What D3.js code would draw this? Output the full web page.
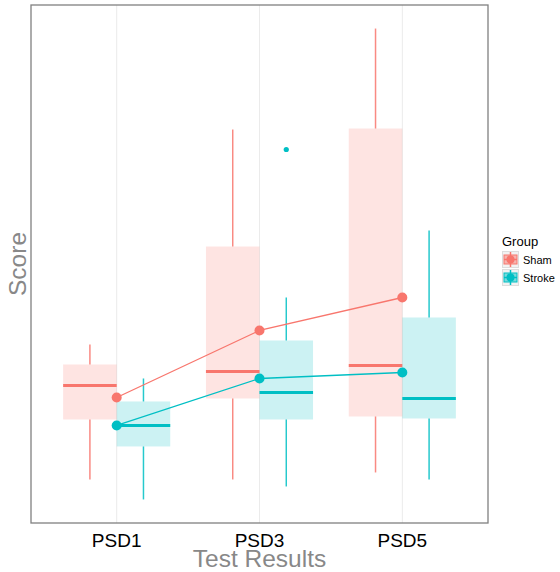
<!DOCTYPE html>
<html>
<head>
<meta charset="utf-8">
<script src="https://cdn.jsdelivr.net/npm/d3@7"></script>
<style>
  body { margin: 0; background: #fff; }
  svg { font-family: "Liberation Sans", Arial, sans-serif; }
</style>
</head>
<body>
<div id="chart"></div>
<script>
// Data
const tests = ["PSD1", "PSD3", "PSD5"];
const groups = ["Sham", "Stroke"];
const colors = ["#F8766D", "#00BFC4"];

// box stats per group, one entry per test: [lower, q1, median, q3, upper]
const shamStats = [
  [2.0, 8.0, 11.4, 13.5, 15.5],
  [2.0, 10.1, 12.8, 25.3, 37.0],
  [2.7, 8.3, 13.4, 37.1, 47.1]
];
const strokeStats = [
  [0.0, 5.3, 7.4, 9.8, 12.1],
  [1.3, 8.0, 10.7, 15.9, 20.2],
  [2.0, 8.1, 10.1, 18.2, 26.9]
];
const shamMeans = [10.2, 16.9, 20.2];
const strokeMeans = [7.4, 12.1, 12.7];
const shamOutliers = [[], [], []];
const strokeOutliers = [[], [35.0], []];

const width = 560, height = 572;
const margin = { top: 5, right: 72, bottom: 49, left: 31 };
const pw = width - margin.left - margin.right;
const ph = height - margin.top - margin.bottom;

const svg = d3.select("#chart").append("svg")
  .attr("width", width)
  .attr("height", height);

const g = svg.append("g")
  .attr("transform", `translate(${margin.left},${margin.top})`);

// scales
const x = d3.scalePoint().domain(tests).range([0, pw]).padding(0.6);
const step = x.step();
const dodge = d3.scaleBand().domain(groups).range([-0.375 * step, 0.375 * step]);

const allVals = shamStats.flat().concat(strokeStats.flat(), strokeOutliers.flat(), shamOutliers.flat());
const [ymin, ymax] = d3.extent(allVals);
const pad = (ymax - ymin) * 0.05;
const y = d3.scaleLinear().domain([ymin - pad, ymax + pad]).range([ph, 0]);

// vertical grid lines
g.append("g").selectAll("line")
  .data(tests)
  .join("line")
    .attr("x1", d => x(d)).attr("x2", d => x(d))
    .attr("y1", 0).attr("y2", ph)
    .attr("stroke", "#ebebeb")
    .attr("stroke-width", 1);

const series = [
  { key: "Sham", stats: shamStats, means: shamMeans, outliers: shamOutliers, color: colors[0] },
  { key: "Stroke", stats: strokeStats, means: strokeMeans, outliers: strokeOutliers, color: colors[1] }
];

series.forEach(s => {
  const bg = g.append("g");
  const items = s.stats.map((st, i) => ({ test: tests[i], st }));
  const bx = d => x(d.test) + dodge(s.key);
  const bw = dodge.bandwidth();

  // whiskers
  bg.selectAll("line.up").data(items).join("line")
    .attr("x1", d => bx(d) + bw / 2).attr("x2", d => bx(d) + bw / 2)
    .attr("y1", d => y(d.st[3])).attr("y2", d => y(d.st[4]))
    .attr("stroke", s.color).attr("stroke-width", 1.5).attr("stroke-opacity", 0.85);
  bg.selectAll("line.down").data(items).join("line")
    .attr("x1", d => bx(d) + bw / 2).attr("x2", d => bx(d) + bw / 2)
    .attr("y1", d => y(d.st[1])).attr("y2", d => y(d.st[0]))
    .attr("stroke", s.color).attr("stroke-width", 1.5).attr("stroke-opacity", 0.85);

  // boxes
  bg.selectAll("rect").data(items).join("rect")
    .attr("x", d => bx(d))
    .attr("width", bw)
    .attr("y", d => y(d.st[3]))
    .attr("height", d => y(d.st[1]) - y(d.st[3]))
    .attr("fill", s.color)
    .attr("fill-opacity", 0.2);

  // medians
  bg.selectAll("line.med").data(items).join("line")
    .attr("x1", d => bx(d)).attr("x2", d => bx(d) + bw)
    .attr("y1", d => y(d.st[2])).attr("y2", d => y(d.st[2]))
    .attr("stroke", s.color).attr("stroke-width", 3);

  // outliers
  const outs = s.outliers.flatMap((arr, i) => arr.map(v => ({ test: tests[i], v })));
  bg.selectAll("circle.out").data(outs).join("circle")
    .attr("cx", d => x(d.test) + dodge(s.key) + bw / 2)
    .attr("cy", d => y(d.v))
    .attr("r", 2.6)
    .attr("fill", s.color);
});

// mean lines and points
series.forEach(s => {
  const pts = s.means.map((v, i) => ({ test: tests[i], v }));
  g.append("path")
    .datum(pts)
    .attr("d", d3.line().x(d => x(d.test)).y(d => y(d.v)))
    .attr("fill", "none")
    .attr("stroke", s.color)
    .attr("stroke-width", 1.3);
  g.append("g").selectAll("circle").data(pts).join("circle")
    .attr("cx", d => x(d.test))
    .attr("cy", d => y(d.v))
    .attr("r", 5)
    .attr("fill", s.color);
});

// panel border
g.append("rect")
  .attr("width", pw).attr("height", ph)
  .attr("fill", "none")
  .attr("stroke", "#808080")
  .attr("stroke-width", 1.3);

// x axis labels
g.append("g").selectAll("text").data(tests).join("text")
  .attr("x", d => x(d))
  .attr("y", ph + 24)
  .attr("text-anchor", "middle")
  .attr("font-size", 19)
  .attr("fill", "#000")
  .text(d => d);

// axis titles
svg.append("text")
  .attr("x", margin.left + pw / 2)
  .attr("y", height - 5)
  .attr("text-anchor", "middle")
  .attr("font-size", 24.5)
  .attr("fill", "#888")
  .text("Test Results");

svg.append("text")
  .attr("transform", `translate(26,${margin.top + ph / 2}) rotate(-90)`)
  .attr("text-anchor", "middle")
  .attr("font-size", 24.5)
  .attr("fill", "#888")
  .text("Score");

// legend
const lg = svg.append("g").attr("transform", "translate(502,235)");
lg.append("text")
  .attr("x", 0).attr("y", 11)
  .attr("font-size", 13)
  .attr("fill", "#000")
  .text("Group");

const keys = lg.selectAll("g.key").data(series).join("g")
  .attr("transform", (d, i) => `translate(0,${16 + i * 18})`);
keys.append("rect")
  .attr("x", 0.5).attr("y", 0.5).attr("width", 16).attr("height", 16)
  .attr("fill", "#f2f2f2").attr("stroke", "#dddddd");
keys.append("line")
  .attr("x1", 8.5).attr("x2", 8.5).attr("y1", 1).attr("y2", 16)
  .attr("stroke", d => d.color).attr("stroke-width", 1.5);
keys.append("rect")
  .attr("x", 2).attr("y", 4).attr("width", 13).attr("height", 9)
  .attr("fill", d => d.color).attr("fill-opacity", 0.5)
  .attr("stroke", d => d.color).attr("stroke-width", 1);
keys.append("line")
  .attr("x1", 2).attr("x2", 15).attr("y1", 8.5).attr("y2", 8.5)
  .attr("stroke", d => d.color).attr("stroke-width", 1.5);
keys.append("circle")
  .attr("cx", 8.5).attr("cy", 8.5).attr("r", 4)
  .attr("fill", d => d.color);
keys.append("text")
  .attr("x", 21).attr("y", 12.5)
  .attr("font-size", 11)
  .attr("fill", "#000")
  .text(d => d.key);
</script>
</body>
</html>
